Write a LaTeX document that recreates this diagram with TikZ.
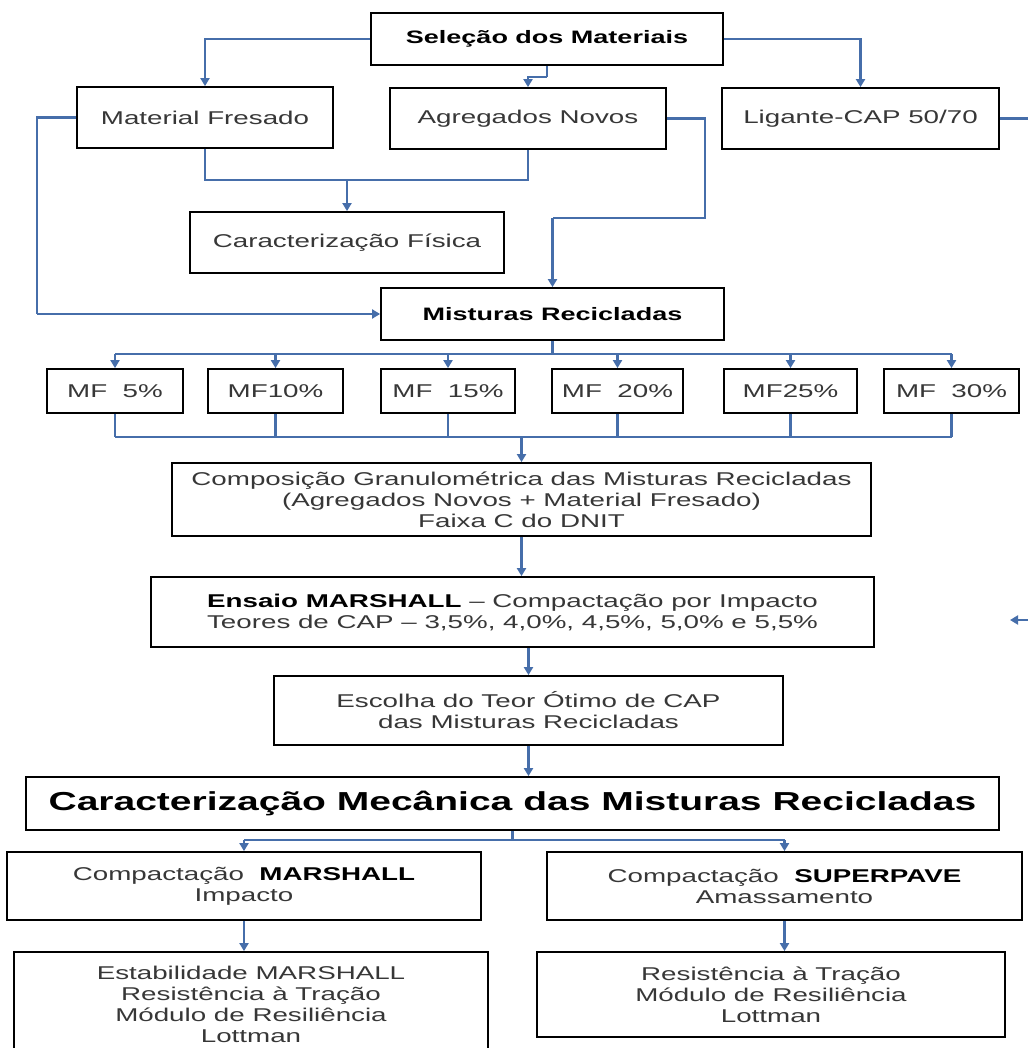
\documentclass[tikz,border=0pt]{standalone}
\usepackage{fontspec}
\setmainfont{Liberation Sans}[FakeStretch=1.5]
\usetikzlibrary{arrows.meta}
\definecolor{conn}{RGB}{70,110,170}
\definecolor{txt}{RGB}{55,55,55}
\begin{document}
\begin{tikzpicture}[x=1pt,y=-1pt,
  box/.style={draw=black,line width=1.8pt,fill=white,align=center,inner sep=0pt,
    text=txt,font=\fontsize{18.5}{21}\selectfont},
  bbox/.style={box,text=black,font=\bfseries\fontsize{18}{21}\selectfont},
  link/.style={draw=conn,line width=2.4pt},
  arr/.style={link,-{Triangle[length=8pt,width=9pt]}}]
\useasboundingbox (0,0) rectangle (1027,1048);
\fill[white] (0,0) rectangle (1027,1048);
% boxes
\node[bbox,minimum width=352pt,minimum height=52pt] (sel) at (547,39) {Seleção dos Materiais};
\node[box,minimum width=256pt,minimum height=61pt] (mf) at (205,117.5) {Material Fresado};
\node[box,minimum width=276pt,minimum height=61pt] (ag) at (528,118.5) {Agregados Novos};
\node[box,minimum width=277pt,minimum height=61pt] (lig) at (860.5,118.5) {Ligante-CAP 50/70};
\node[box,minimum width=314pt,minimum height=61pt] (cf) at (347,242.5) {Caracterização Física};
\node[bbox,minimum width=343pt,minimum height=52pt] (mis) at (552.5,314) {Misturas Recicladas};
\node[box,minimum width=136pt,minimum height=44pt] (m5) at (115,391) {MF\ \ 5\%};
\node[box,minimum width=135pt,minimum height=44pt] (m10) at (275.5,391) {MF10\%};
\node[box,minimum width=134pt,minimum height=44pt] (m15) at (448,391) {MF\ \ 15\%};
\node[box,minimum width=131pt,minimum height=44pt] (m20) at (617.5,391) {MF\ \ 20\%};
\node[box,minimum width=133pt,minimum height=44pt] (m25) at (790.5,391) {MF25\%};
\node[box,minimum width=135pt,minimum height=44pt] (m30) at (951.5,391) {MF\ \ 30\%};
\node[box,minimum width=699pt,minimum height=73pt] (comp) at (521.5,499.5)
  {Composição Granulométrica das Misturas Recicladas\\(Agregados Novos + Material Fresado)\\Faixa C do DNIT};
\node[box,minimum width=723pt,minimum height=70pt] (ens) at (512.5,612)
  {\textcolor{black}{\bfseries Ensaio MARSHALL} – Compactação por Impacto\\Teores de CAP – 3,5\%, 4,0\%, 4,5\%, 5,0\% e 5,5\%};
\node[box,minimum width=509pt,minimum height=69pt] (esc) at (528.5,710.5)
  {Escolha do Teor Ótimo de CAP\\das Misturas Recicladas};
\node[bbox,font=\bfseries\fontsize{26}{30}\selectfont,minimum width=973pt,minimum height=53pt] (cm) at (512.5,803.5)
  {Caracterização Mecânica das Misturas Recicladas};
\node[box,minimum width=474pt,minimum height=68pt] (cmar) at (244,886)
  {Compactação\ \ \textcolor{black}{\bfseries MARSHALL}\\Impacto};
\node[box,minimum width=475pt,minimum height=68pt] (csup) at (784.5,886)
  {Compactação\ \ \textcolor{black}{\bfseries SUPERPAVE}\\Amassamento};
\node[box,minimum width=474pt,minimum height=104pt] (res1) at (251,1004)
  {Estabilidade MARSHALL\\Resistência à Tração\\Módulo de Resiliência\\Lottman};
\node[box,minimum width=468pt,minimum height=85pt] (res2) at (771,994.5)
  {Resistência à Tração\\Módulo de Resiliência\\Lottman};
% helper coordinates
\coordinate (k1) at (547,77);
\coordinate (r1) at (1045,118.5);
\coordinate (r2) at (1045,620);
\coordinate (rin) at (1010,620);
\coordinate (l1) at (37,117.5);
\coordinate (l2) at (37,314);
\coordinate (a1) at (705,118.5);
\coordinate (a2) at (705,218);
\coordinate (a3) at (552.5,218);
\coordinate (j1) at (205,180);
\coordinate (j2) at (528,180);
\coordinate (j3) at (347,180);
\coordinate (d0) at (552.5,354);
\coordinate (dl) at (115,354);
\coordinate (dr) at (951.5,354);
\coordinate (cl) at (115,437);
\coordinate (cr) at (951.5,437);
\coordinate (cc) at (521.5,437);
\coordinate (e0) at (512.5,840);
\coordinate (el) at (244,840);
\coordinate (er) at (784.5,840);
% connectors
\draw[arr] (sel.west) -| (mf.north);
\draw[link] (sel.south) -- (k1);
\draw[arr] (k1) -| (ag.north);
\draw[arr] (sel.east) -| (lig.north);
\draw[link] (lig.east) -- (r1) -- (r2);
\draw[arr] (r2) -- (rin);
\draw[link] (mf.west) -- (l1) -- (l2);
\draw[arr] (l2) -- (mis.west);
\draw[link] (ag.east) -- (a1) -- (a2) -- (a3);
\draw[arr] (a3) -- (mis.north);
\draw[link] (mf.south) -- (j1) -- (j2) -- (ag.south);
\draw[arr] (j3) -- (cf.north);
\draw[link] (mis.south) -- (d0);
\draw[link] (dl) -- (dr);
\foreach \m in {m5,m10,m15,m20,m25,m30}{
  \draw[arr] (\m.north |- dl) -- (\m.north);
  \draw[link] (\m.south) -- (\m.south |- cl);
}
\draw[link] (cl) -- (cr);
\draw[arr] (cc) -- (comp.north);
\draw[arr] (comp.south) -- (comp.south |- ens.north);
\draw[arr] (esc.north |- ens.south) -- (esc.north);
\draw[arr] (esc.south) -- (esc.south |- cm.north);
\draw[link] (cm.south -| e0) -- (e0);
\draw[link] (el) -- (er);
\draw[arr] (el) -- (cmar.north);
\draw[arr] (er) -- (csup.north);
\draw[arr] (cmar.south) -- (cmar.south |- res1.north);
\draw[arr] (csup.south) -- (csup.south |- res2.north);
\end{tikzpicture}
\end{document}
